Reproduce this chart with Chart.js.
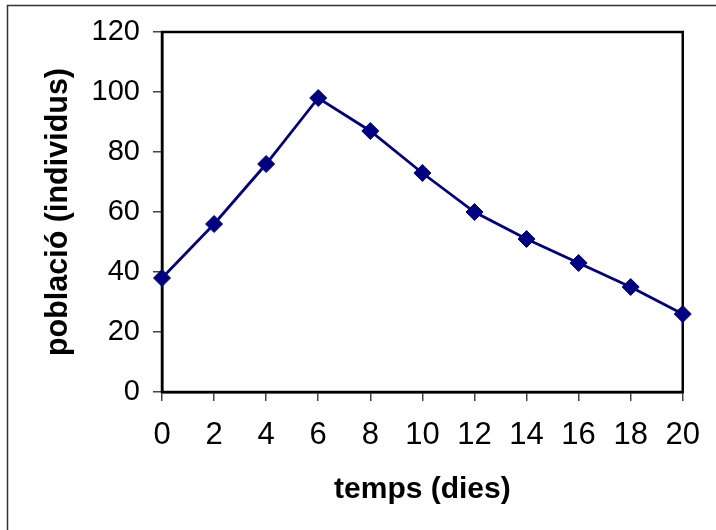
<!DOCTYPE html>
<html>
<head>
<meta charset="utf-8">
<script src="https://cdn.jsdelivr.net/npm/chart.js@4.4.0/dist/chart.umd.min.js"></script>
<style>
    html, body { margin: 0; padding: 0; background: #fff; }
    #wrap { position: relative; width: 716px; height: 530px; overflow: hidden; }
</style>
</head>
<body>
<div id="wrap"><canvas id="popChart" width="716" height="530"></canvas></div>
<script>
// dades llegides del gràfic
const days = [0, 2, 4, 6, 8, 10, 12, 14, 16, 18, 20];
const population = [38, 56, 76, 98, 87, 73, 60, 51, 43, 35, 26];
const xTicks = [0, 2, 4, 6, 8, 10, 12, 14, 16, 18, 20];
const yTicks = [0, 20, 40, 60, 80, 100, 120];

const FONT = '"Liberation Sans", Arial, sans-serif';

// marc exterior (només dalt i esquerra són visibles) + vora de l'àrea de dibuix
const framePlugin = {
    id: 'frame',
    beforeDraw(chart) {
        const c = chart.ctx;
        c.save();
        c.strokeStyle = '#333';
        c.lineWidth = 1.5;
        c.beginPath();
        c.moveTo(7.5, 540);
        c.lineTo(7.5, 5.5);
        c.lineTo(730, 5.5);
        c.stroke();
        c.restore();
    },
    beforeDatasetsDraw(chart) {
        const a = chart.chartArea;
        const c = chart.ctx;
        c.save();
        c.strokeStyle = '#000';
        c.lineWidth = 2.5;
        c.strokeRect(a.left, a.top, a.right - a.left, a.bottom - a.top);
        c.restore();
    }
};

const ctx = document.getElementById('popChart').getContext('2d');
new Chart(ctx, {
    type: 'line',
    data: {
        datasets: [{
            label: 'població',
            data: days.map((d, i) => ({ x: d, y: population[i] })),
            borderColor: '#000080',
            backgroundColor: '#000080',
            borderWidth: 2.8,
            pointStyle: 'rectRot',
            pointRadius: 8.5,
            pointBorderWidth: 1,
            pointBorderColor: '#000080',
            pointBackgroundColor: '#000080',
            tension: 0,
            clip: false
        }]
    },
    options: {
        responsive: false,
        animation: false,
        devicePixelRatio: 1,
        layout: { padding: { top: 32, right: 32, left: 0, bottom: 0 } },
        plugins: {
            legend: { display: false },
            tooltip: { enabled: false }
        },
        scales: {
            x: {
                type: 'linear',
                min: 0,
                max: 20,
                afterFit: s => { s.height = 138; },
                afterBuildTicks: s => { s.ticks = xTicks.map(v => ({ value: v })); },
                grid: { display: true, drawOnChartArea: false, drawTicks: true, tickLength: 9, color: '#444', lineWidth: 1.5 },
                border: { display: true, color: '#000', width: 2.5 },
                ticks: { color: '#000', padding: 16, maxRotation: 0, font: { family: FONT, size: 31 } },
                title: {
                    display: true,
                    text: 'temps (dies)',
                    color: '#000',
                    font: { family: FONT, size: 30, weight: 'bold' },
                    padding: { top: 0, bottom: 22 }
                }
            },
            y: {
                min: 0,
                max: 120,
                afterFit: s => { s.width = 162; },
                afterBuildTicks: s => { s.ticks = yTicks.map(v => ({ value: v })); },
                grid: { display: true, drawOnChartArea: false, drawTicks: true, tickLength: 9, color: '#444', lineWidth: 1.5 },
                border: { display: true, color: '#000', width: 2.5 },
                ticks: { color: '#000', padding: 13, font: { family: FONT, size: 29 } },
                title: {
                    display: true,
                    text: 'població (individus)',
                    color: '#000',
                    font: { family: FONT, size: 30.5, weight: 'bold' },
                    padding: { top: 40, bottom: 0 }
                }
            }
        }
    },
    plugins: [framePlugin]
});
</script>
</body>
</html>
